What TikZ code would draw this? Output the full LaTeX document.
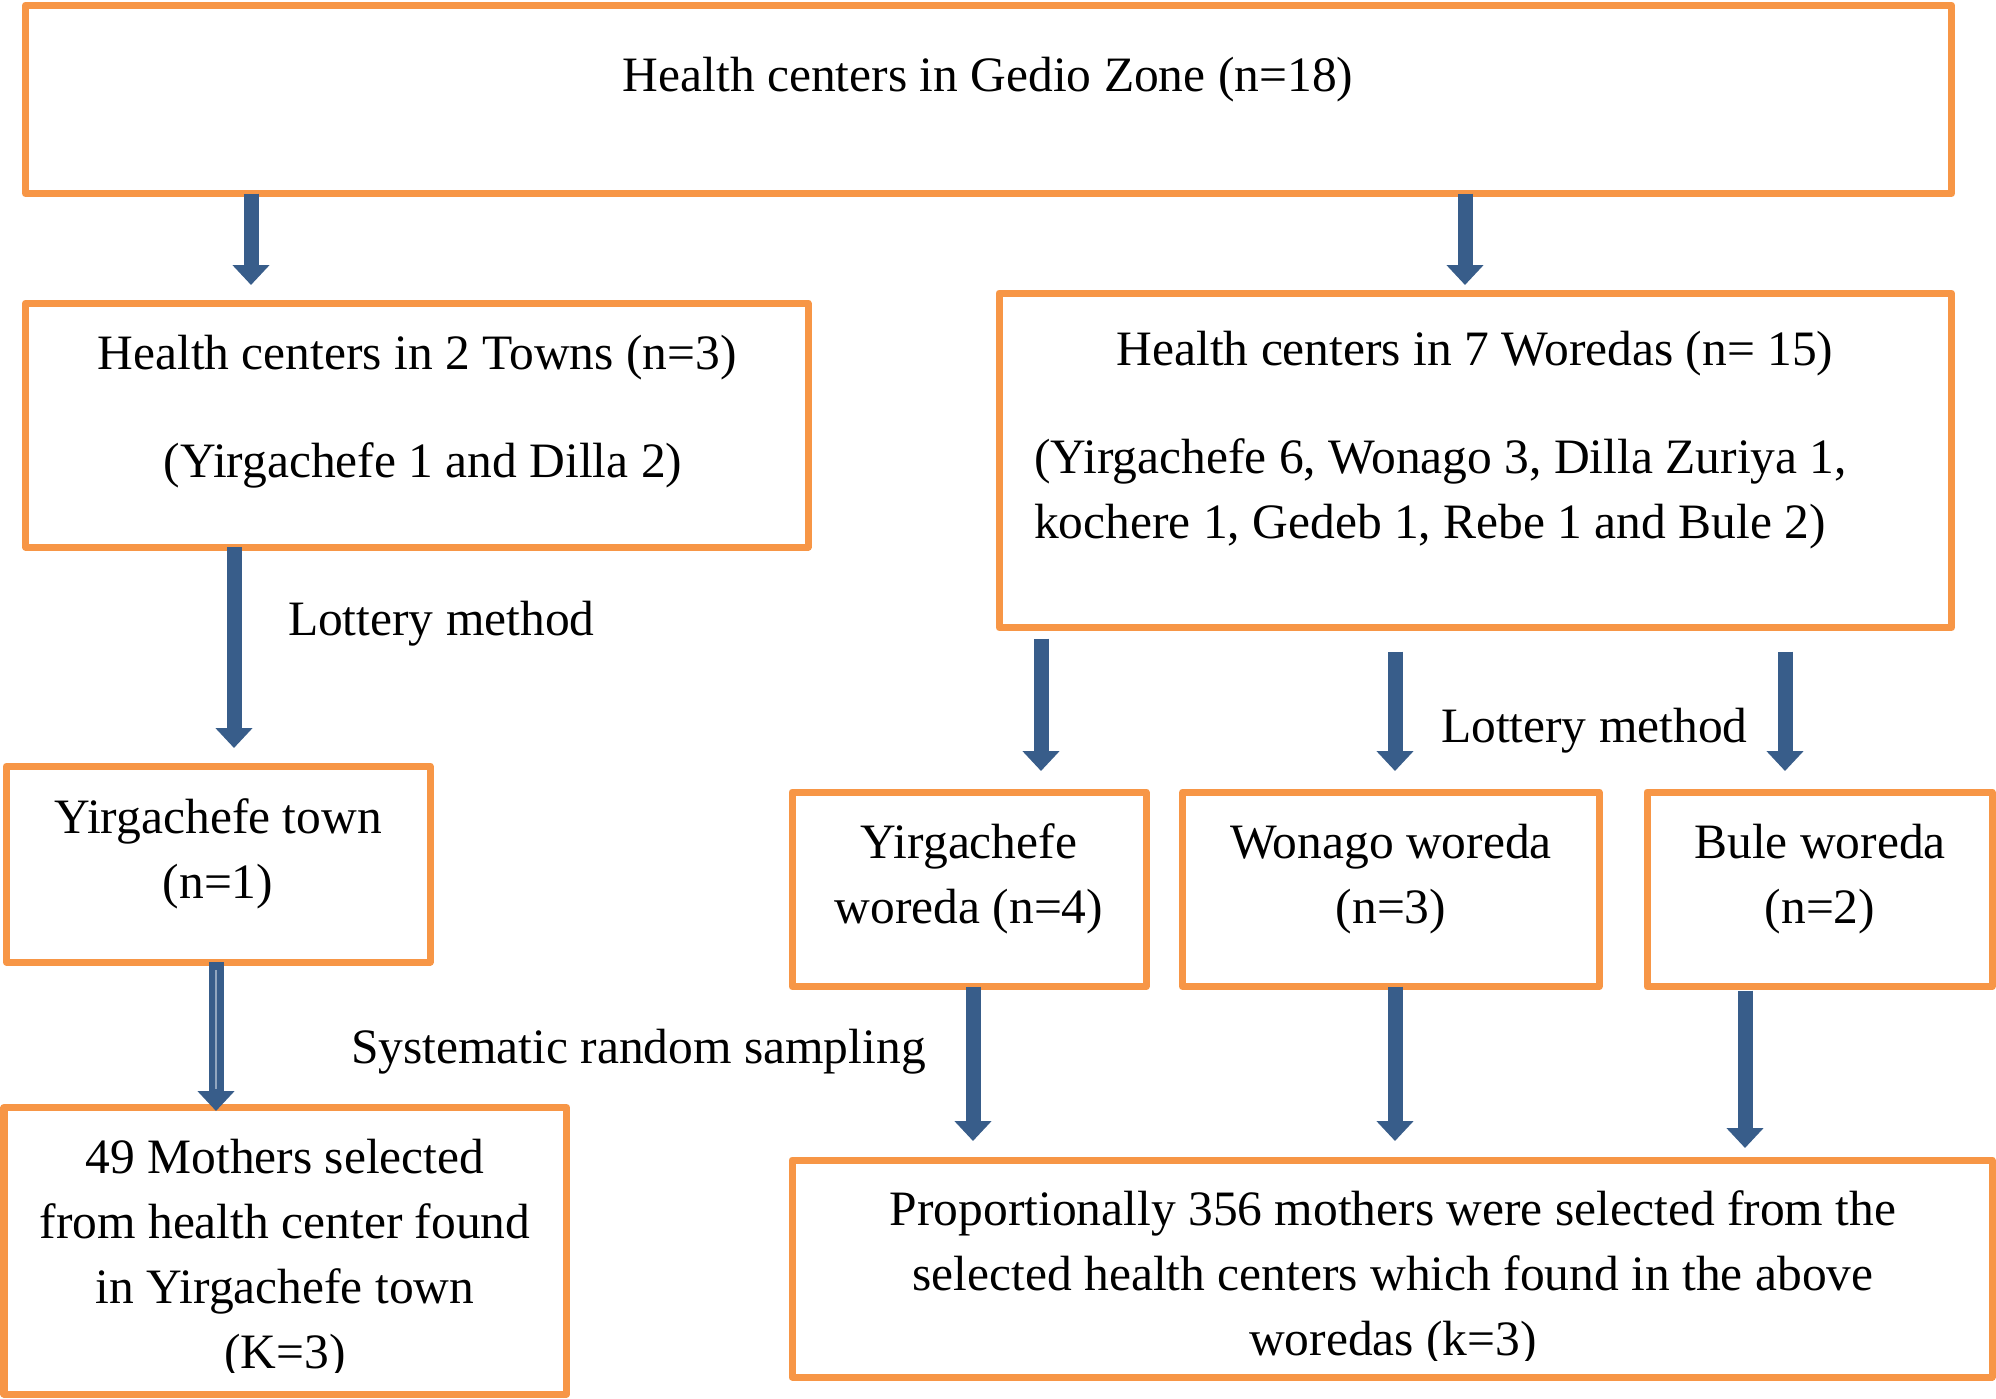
\documentclass[tikz,border=0pt]{standalone}
\usepackage{fontspec}
\setmainfont{Liberation Serif}
\usetikzlibrary{arrows.meta,calc}
\definecolor{boxor}{HTML}{F79646}
\definecolor{arrbl}{HTML}{385D8A}
\begin{document}
\begin{tikzpicture}[x=1pt,y=-1pt,
 box/.style={draw=boxor,line width=7pt,line join=round,inner sep=0pt,outer sep=0pt,anchor=north west},
 txt/.style={font=\fontsize{49.5}{65}\selectfont,inner sep=0pt,outer sep=0pt,anchor=base,align=center},
 lbl/.style={font=\fontsize{49.5}{65}\selectfont,inner sep=0pt,outer sep=0pt,anchor=base west},
 arr/.style={draw=arrbl,line width=15pt,-{Triangle[width=36pt,length=20pt]}}]
\useasboundingbox (0,0) rectangle (1996,1398);

% texts (anchor base = baseline of the last line)
\node[txt] (t1) at (988,91) {Health centers in Gedio Zone (n=18)};
\node[txt] (t2a) at (417,369) {Health centers in 2 Towns (n=3)};
\node[txt] (t2b) at (423,477) {(Yirgachefe 1 and Dilla 2)};
\node[txt] (t3a) at (1475,365) {Health centers in 7 Woredas (n= 15)};
\node[lbl] (t3b) at (1034,473) {(Yirgachefe 6, Wonago 3, Dilla Zuriya 1,};
\node[lbl] (t3c) at (1034,538) {kochere 1, Gedeb 1, Rebe 1 and Bule 2)};
\node[txt] (t4) at (218,898) {Yirgachefe town\\(n=1)};
\node[txt] (t5) at (969,923) {Yirgachefe\\woreda (n=4)};
\node[txt] (t6) at (1391,923) {Wonago woreda\\(n=3)};
\node[txt] (t7) at (1820,923) {Bule woreda\\(n=2)};
\begin{scope}
\clip (0,1100) rectangle (600,1372);
\node[txt] (t8) at (285,1368) {49 Mothers selected\\from health center found\\in Yirgachefe town\\(K=3)};
\end{scope}
\begin{scope}
\clip (790,1150) rectangle (1996,1360);
\node[txt] (t9) at (1393,1355) {Proportionally 356 mothers were selected from the\\selected health centers which found in the above\\woredas (k=3)};
\end{scope}
\node[lbl] (l1) at (288,635) {Lottery method};
\node[lbl] (l2) at (1441,742) {Lottery method};
\node[lbl] (l3) at (351,1063) {Systematic random sampling};

% boxes
\node[box,minimum width=1926pt,minimum height=188.5pt] (b1) at (25.5,5) {};
\node[box,minimum width=782.5pt,minimum height=244pt] (b2) at (25.5,303) {};
\node[box,minimum width=952.5pt,minimum height=334.6pt] (b3) at (999,293) {};
\node[box,minimum width=423.6pt,minimum height=196pt] (b4) at (6.4,766) {};
\node[box,minimum width=354pt,minimum height=194.6pt] (b5) at (792,792) {};
\node[box,minimum width=416.4pt,minimum height=194.6pt] (b6) at (1182.6,792) {};
\node[box,minimum width=345pt,minimum height=194.6pt] (b7) at (1647,792) {};
\node[box,minimum width=562.5pt,minimum height=286.5pt] (b8) at (4,1107.5) {};
\node[box,minimum width=1200pt,minimum height=217pt] (b9) at (792,1160) {};

% arrow tips
\coordinate (e1) at (251,285);
\coordinate (e2) at (1465,285);
\coordinate (e3) at (234,748);
\coordinate (e4) at (216,1111);
\coordinate (e5) at (1041,771);
\coordinate (e6) at (1395,771);
\coordinate (e7) at (1785,771);
\coordinate (e8) at (973,1141);
\coordinate (e9) at (1395,1141);
\coordinate (e10) at (1745,1148);

\draw[arr] (b1.south west -| e1) -- (e1);
\draw[arr] (b1.south west -| e2) -- (e2);
\draw[arr] (b2.south west -| e3) -- (e3);
\draw[arr] (b4.south west -| e4) -- (e4);
\draw[draw=arrbl!55!white,line width=2pt] ($(b4.south west -| e4)+(0,8)$) -- ($(e4)+(0,-22)$);
\draw[arr] ($(b3.south west -| e5)+(0,11)$) -- (e5);
\draw[arr] ($(b3.south west -| e6)+(0,24)$) -- (e6);
\draw[arr] ($(b3.south west -| e7)+(0,24)$) -- (e7);
\draw[arr] (b5.south west -| e8) -- (e8);
\draw[arr] (b6.south west -| e9) -- (e9);
\draw[arr] ($(b7.south west -| e10)+(0,4)$) -- (e10);
\end{tikzpicture}
\end{document}
